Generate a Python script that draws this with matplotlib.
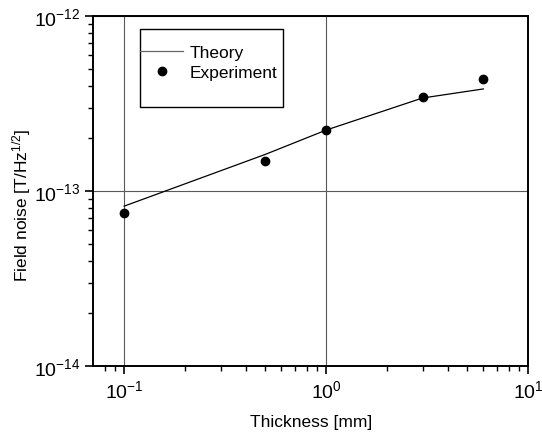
import matplotlib
matplotlib.use("Agg")
import matplotlib.pyplot as plt
from matplotlib.patches import Rectangle
from matplotlib.ticker import LogLocator, NullFormatter

plt.rcParams['font.family'] = ['Liberation Sans', 'DejaVu Sans']
plt.rcParams['mathtext.fontset'] = 'custom'
plt.rcParams['mathtext.rm'] = 'Liberation Sans'
plt.rcParams['mathtext.it'] = 'Liberation Sans'

# theory curve
theory_x = [0.1, 0.5, 1.0, 3.0, 6.0]
theory_y = [8.2e-14, 1.62e-13, 2.23e-13, 3.4e-13, 3.83e-13]

# measured points
exp_x = [0.1, 0.5, 1.0, 3.0, 6.0]
exp_y = [7.5e-14, 1.48e-13, 2.23e-13, 3.44e-13, 4.35e-13]

fig = plt.figure(figsize=(5.42, 4.35), dpi=100)
ax = fig.add_axes([0.1725, 0.156, 0.802, 0.805])

ax.plot(theory_x, theory_y, color='black', lw=0.9, label='Theory')
ax.plot(exp_x, exp_y, 'o', color='black', ms=6, label='Experiment')

ax.set_xscale('log')
ax.set_yscale('log')
ax.set_xlim(0.0705, 10)
ax.set_ylim(1e-14, 1e-12)

ax.grid(True, which='major', color='0.35', lw=0.8)
ax.xaxis.set_minor_locator(LogLocator(base=10, subs=range(2, 10)))
ax.yaxis.set_minor_locator(LogLocator(base=10, subs=range(2, 10)))
ax.xaxis.set_minor_formatter(NullFormatter())
ax.yaxis.set_minor_formatter(NullFormatter())
ax.tick_params(which='major', direction='out', length=6, width=1.2, labelsize=14, top=False, right=False)
ax.tick_params(which='minor', direction='out', length=3.5, width=1.0, top=False, right=False)
for s in ax.spines.values():
    s.set_linewidth(1.4)

ax.set_xlabel('Thickness [mm]', fontsize=12.5, labelpad=9)
ax.set_ylabel('Field noise [T/Hz$^{1/2}$]', fontsize=12.5)
ax.yaxis.set_label_coords(-0.14, 0.463)

# legend box drawn separately (taller than its contents, as in the original)
ax.add_patch(Rectangle((0.107, 0.74), 0.329, 0.223, transform=ax.transAxes,
                       facecolor='white', edgecolor='black', lw=1.0, zorder=4))
leg = ax.legend(loc='upper left', bbox_to_anchor=(0.107, 0.918), fontsize=12.5,
                frameon=False, handlelength=2.5, borderpad=0, labelspacing=0.3,
                handletextpad=0.35, borderaxespad=0, numpoints=1)
leg.set_zorder(5)
leg.get_lines()[0].set_color('0.4')

fig.savefig('out.png', dpi=100)
